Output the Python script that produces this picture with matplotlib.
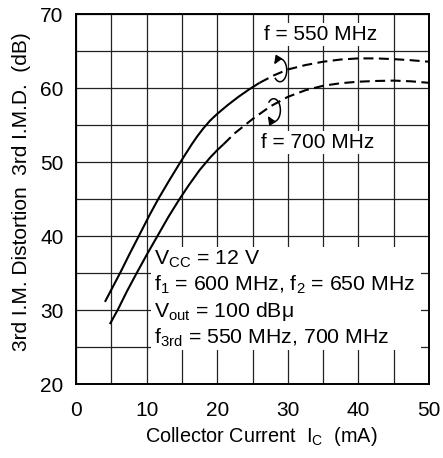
import numpy as np
import matplotlib
matplotlib.use("Agg")
import matplotlib.pyplot as plt
from matplotlib.patches import Arc, Rectangle

plt.rcParams['font.family'] = ['Liberation Sans', 'DejaVu Sans']
plt.rcParams['mathtext.fontset'] = 'custom'
plt.rcParams['mathtext.rm'] = 'Liberation Sans'

# ---- data ----
# f = 550 MHz curve
x550_solid = [4.1, 5.2, 6.3, 7.6, 8.9, 10.4, 11.65, 13.2, 14.8, 16.4, 17.2, 18.0, 19.0, 20.0, 21.5, 23.0, 24.5, 26.0]
y550_solid = [31.1, 33.1, 35.1, 37.6, 40.0, 42.8, 45.0, 47.5, 50.0, 52.4, 53.5, 54.5, 55.6, 56.5, 57.7, 58.8, 59.8, 60.7]
x550_dash = [26.0, 28.0, 30.0, 32.5, 35.0, 37.5, 40.0, 42.5, 45.0, 47.5, 50.0]
y550_dash = [60.7, 61.7, 62.5, 63.1, 63.55, 63.85, 64.0, 64.0, 63.9, 63.75, 63.55]
# f = 700 MHz curve
x700_solid = [4.8, 5.9, 7.2, 8.6, 10.1, 11.6, 13.1, 14.6, 16.0, 17.5, 19.0, 20.0, 20.9]
y700_solid = [28.1, 30.0, 32.5, 35.0, 37.6, 40.1, 42.6, 44.9, 46.9, 48.9, 50.6, 51.6, 52.4]
x700_dash = [20.9, 22.5, 25.0, 27.5, 30.0, 32.5, 35.0, 37.5, 40.0, 42.5, 45.0, 47.5, 50.0]
y700_dash = [52.4, 53.9, 55.8, 57.5, 58.8, 59.7, 60.3, 60.65, 60.85, 60.95, 61.0, 60.9, 60.7]

xticks = [0, 10, 20, 30, 40, 50]
yticks = [20, 30, 40, 50, 60, 70]
grid_x = list(range(0, 51, 5))
grid_y = list(range(20, 71, 5))

cond_lines = [r'V$\mathregular{_{CC}}$ = 12 V',
              r'f$\mathregular{_1}$ = 600 MHz, f$\mathregular{_2}$ = 650 MHz',
              r'V$\mathregular{_{out}}$ = 100 dBμ',
              r'f$\mathregular{_{3rd}}$ = 550 MHz, 700 MHz']
label_550 = 'f = 550 MHz'
label_700 = 'f = 700 MHz'
xlabel = r'Collector Current  I$\mathregular{_C}$  (mA)'
ylabel = '3rd I.M. Distortion  3rd I.M.D.  (dB)'

W, H = 443, 458
fig = plt.figure(figsize=(W/100, H/100), dpi=100)
ax = fig.add_axes([76/W, 1-384/H, (429-76)/W, (384-14)/H])
ax.set_xlim(0, 50)
ax.set_ylim(20, 70)

# grid
for gx in grid_x:
    ax.axvline(gx, color='#222222', lw=0.9, zorder=1)
for gy in grid_y:
    ax.axhline(gy, color='#222222', lw=0.9, zorder=1)

# curves
lw = 1.5
dash = (0, (4.8, 2.6))
ax.plot(x550_solid, y550_solid, color='black', lw=lw, zorder=3, solid_capstyle='butt')
ax.plot(x550_dash, y550_dash, color='black', lw=lw, ls=dash, zorder=3)
ax.plot(x700_solid, y700_solid, color='black', lw=lw, zorder=3, solid_capstyle='butt')
ax.plot(x700_dash, y700_dash, color='black', lw=lw, ls=dash, zorder=3)

# condition box (white background hiding grid)
ax.add_patch(Rectangle((10.6, 24.6), 48.9 - 10.6, 38.55 - 24.6, facecolor='white',
                       edgecolor='none', zorder=2))
ys = [36.1, 32.6, 29.0, 25.5]
for t, yy in zip(cond_lines, ys):
    ax.text(11.1, yy, t, fontsize=15.3, va='baseline', ha='left', zorder=4)

# frequency labels
bb = dict(facecolor='white', edgecolor='none', pad=1.5)
ax.text(34.6, 66.5, label_550, fontsize=15, ha='center', va='baseline', bbox=bb, zorder=4)
ax.text(34.2, 51.85, label_700, fontsize=15, ha='center', va='baseline', bbox=bb, zorder=4)

# circular arrows
def circ_arrow(cx, cy, head_at_top):
    w, h = 1.9, 3.1
    ax.add_patch(Arc((cx, cy), w, h, theta1=235, theta2=125, color='black', lw=1.1, zorder=5))
    if head_at_top:
        a0, a1 = np.deg2rad(118), np.deg2rad(150)
    else:
        a0, a1 = np.deg2rad(242), np.deg2rad(210)
    p0 = (cx + w/2*np.cos(a0), cy + h/2*np.sin(a0))
    p1 = (cx + w/2*np.cos(a1), cy + h/2*np.sin(a1))
    ax.annotate('', xy=p1, xytext=p0,
                arrowprops=dict(arrowstyle='-|>,head_length=0.5,head_width=0.22',
                                color='black', lw=1.0, shrinkA=0, shrinkB=0), zorder=5)

circ_arrow(28.9, 62.4, True)
circ_arrow(28.0, 57.0, False)

ax.set_xticks(xticks)
ax.set_yticks(yticks)
ax.tick_params(length=0, labelsize=15)
ax.tick_params(axis='x', pad=12)
ax.tick_params(axis='y', pad=9)
for s in ax.spines.values():
    s.set_linewidth(1.4)
    s.set_zorder(6)

fig.text(261.7/W, 1-442/H, xlabel, fontsize=14.3, ha='center', va='baseline')
fig.text(22/W, 1-192/H, ylabel, fontsize=15, ha='center', va='center', rotation=90)

fig.savefig('out.png', dpi=100)
